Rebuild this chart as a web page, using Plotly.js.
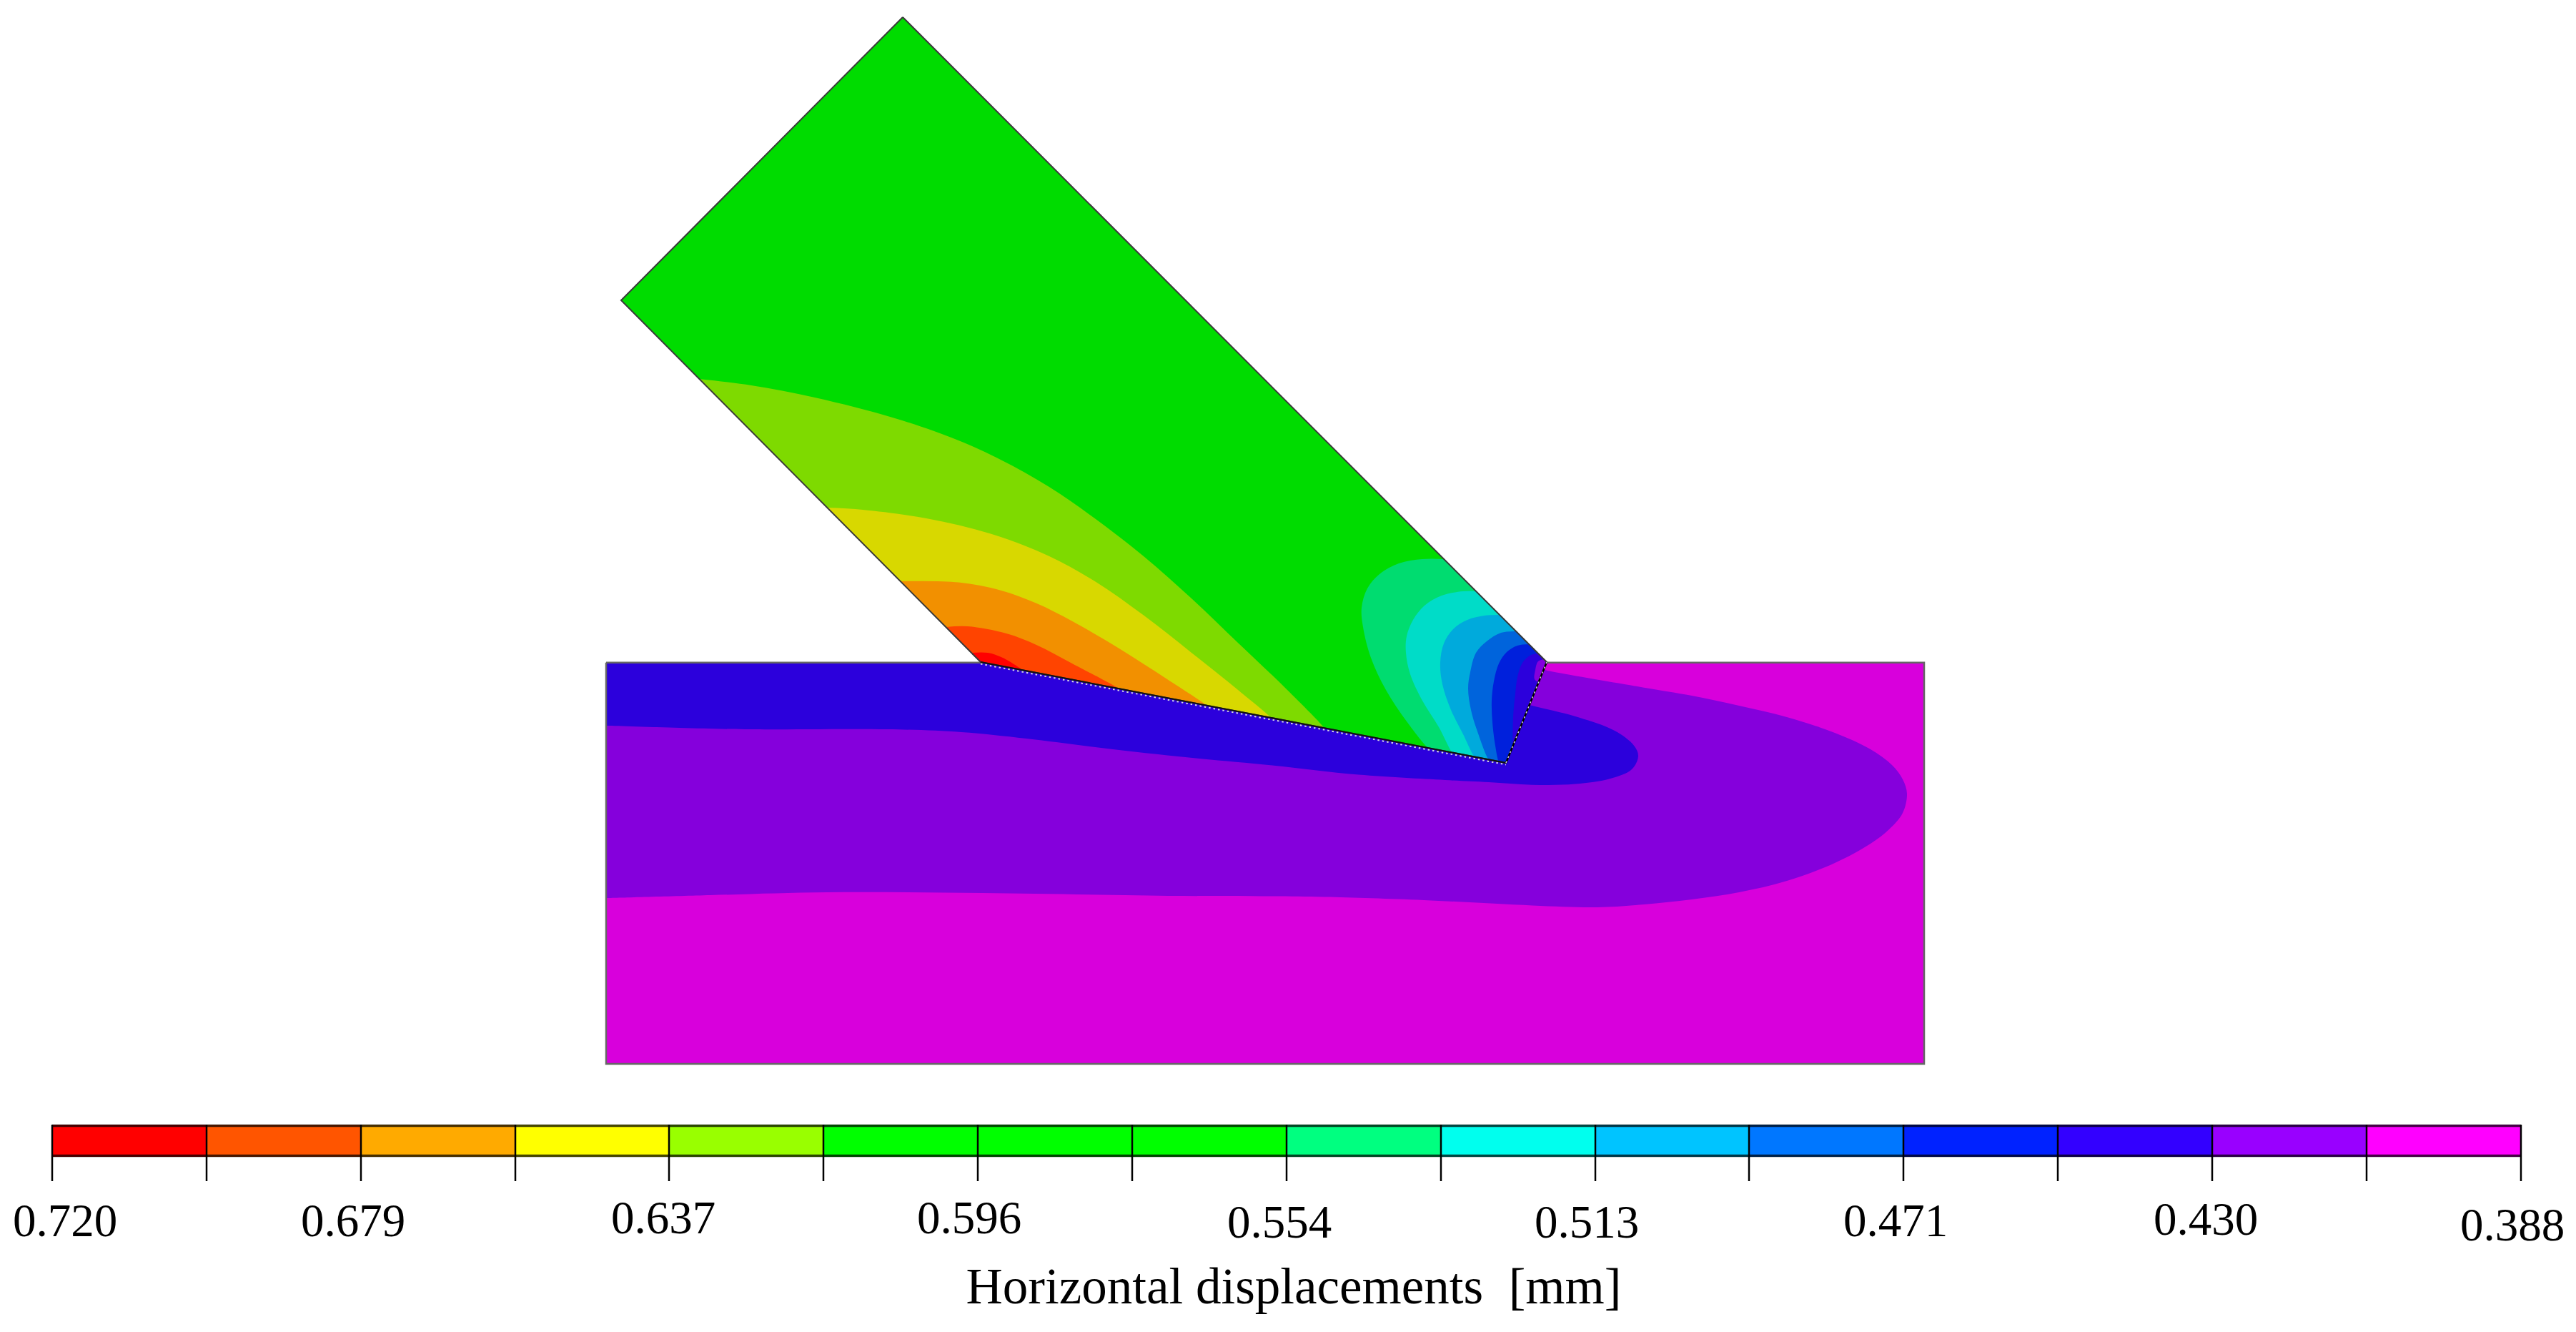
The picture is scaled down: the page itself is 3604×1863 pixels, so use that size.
<!DOCTYPE html>
<html>
<head>
<meta charset="utf-8">
<script src="https://cdn.plot.ly/plotly-3.0.1.min.js"></script>
<style>html,body{margin:0;padding:0;background:#fff}#chart{width:3604px;height:1863px}</style>
</head>
<body>
<div id="chart"></div>
<script>
// ---- colour scale ----
const scaleTicks = [73,289,505,721,936,1152,1368,1584,1800,2016,2232,2447,2663,2879,3095,3311,3527];
const scaleColors = ['#FF0000','#FF5500','#FFAA00','#FFFF00','#99FF00','#00FF00','#00FF00','#00FF00','#00FF80','#00FFEE','#00C4FF','#0077FF','#0022FF','#3300FF','#9900FF','#FF00FF'];
const labelText = ['0.720','0.679','0.637','0.596','0.554','0.513','0.471','0.430','0.388'];
const labelX = [91,494,928,1356,1790,2220,2652,3086,3515];
const labelY = [1713,1713,1709,1709,1715,1715,1713,1711,1719];
const axisTitle = 'Horizontal\u00A0displacements\u00A0\u00A0[mm]';

// ---- contour band colours (field plot) ----
const toolBase = '#00DC00';
const bandLime = '#7EDA00', bandYellow = '#D8D800', bandOrange = '#F29000', bandRedOrange = '#FF4400', bandRed = '#FF0000';
const bandTeal = '#00DC70', bandCyan = '#00DCC8', bandSky = '#00AADC', bandBlue = '#0064DC', bandDeep = '#0020DC', bandIndigo = '#2C00DC', bandViolet = '#8500DC', bandMagenta = '#D800DC';

// ---- outlines ----
const toolX = [1263,869,1372,2107,2164,1263];
const toolY = [24,420,926,1067,926,24];
const blockX = [848,2692,2692,848,848];
const blockY = [926.7,926.7,1488,1488,926.7];
const rakeX = [1372,2107]; const rakeY = [926,1067];
const flankX = [2107,2164]; const flankY = [1067,926];
const rakeDotY = [928.5,1069.5];

// ---- tool, rear bands ----
const limeX = [978,1051,1140,1252,1341,1400,1467,1533,1600,1667,1733,1800,1852,1850,1374,1372,1371,980];
const limeY = [530,539,556,585,616,643,680.5,726,778,837,900,964,1018,1017.6,926.4,926,925,532];
const yellowX = [1157,1207,1296,1386,1467,1533,1600,1667,1733,1778,1776,1374,1372,1371,1159];
const yellowY = [710,713,725,746.6,777.4,813.7,860.6,912.9,965.7,1004,1003.6,926.4,926,925,712];
const orangeX = [1260,1341,1400,1450,1500,1567,1633,1687,1685,1374,1372,1371,1262];
const orangeY = [813,814.6,825.8,843.8,868.8,907.7,950,986,985.6,926.4,926,925,815];
const redOrangeX = [1323,1354,1408,1450,1500,1565,1563,1374,1372,1371,1325];
const redOrangeY = [877,876,886,902,928,963,962.6,926.4,926,925,879];
const redX = [1359,1382,1403,1430,1428,1374,1372,1371,1360];
const redY = [913,913,920,937,936.6,926.4,926,925,915];

// ---- tool, tip bands ----
const tealX = [2021,1990,1957,1930,1913,1905,1907,1918,1939,1968,1998,2000,2105,2107,2107.8,2163,2164,2162.6,2022.5];
const tealY = [782,782,788,803,823,850,877,920,965,1009,1046,1046.5,1066.6,1067,1065,928,926,924.6,783.5];
const cyanX = [2066,2047,2017,1993,1977,1968,1967,1973,1990,2013,2032,2034,2105,2107,2107.8,2163,2164,2162.6,2067.5];
const cyanY = [827,827,833,847,867,890,913,943,980,1017,1052.6,1053,1066.6,1067,1065,928,926,924.6,828.5];
const skyX = [2099,2077,2053,2033,2020,2015,2018,2030,2047,2063,2065,2105,2107,2107.8,2163,2164,2162.6,2100.5];
const skyY = [860,861,867,880,900,927,957,993,1027,1058.5,1059,1066.6,1067,1065,928,926,924.6,861.5];
const blueX = [2122,2100,2080,2065,2057,2054,2058,2067,2083,2085,2105,2107,2107.8,2163,2164,2162.6,2123.5];
const blueY = [883,885,897,913,940,963,993,1023,1062.4,1062.8,1066.6,1067,1065,928,926,924.6,884.5];
const deepX = [2140,2123,2108,2097,2090,2087,2088,2092,2097,2099,2105,2107,2107.8,2163,2164,2162.6,2141.5];
const deepY = [901,903,912,928,953,980,1010,1043,1065.1,1065.5,1066.6,1067,1065,928,926,924.6,902.5];
const indigoTipX = [2153,2142,2130,2123,2120,2117,2117,2118,2163,2164,2162.6,2154.5];
const indigoTipY = [914,916,927,947,970,1003,1043,1040.5,928,926,924.6,915.5];
const violetTipX = [2161,2152,2148,2147,2153,2154,2163,2164,2162.6];
const violetTipY = [922,925,937,950,954,951.5,928,926,924.6];

// ---- workpiece bands ----
const magentaX = [848,2692,2692,848];
const magentaY = [926.7,926.7,1488,1488];
const violetX = [848,850,994,1157,1375,1648,1780,1853,1992,2144,2235,2300,2367,2433,2500,2567,2617,2643,2662,2668,2662,2647,2617,2567,2500,2433,2367,2300,2168,2150,2000,1400,1385,1380,1375,850,848,848,848];
const violetY = [1256,1256,1252,1248,1249,1253,1253.5,1254.6,1259,1266.5,1269,1265,1258,1248,1232,1207,1180,1160,1137,1110,1090,1070,1048,1025,1003,987,973,961.7,938.6,934,930,928,928,927,927,927,927,929,1254];
const indigoX = [848,850,951,1042,1242,1345,1436,1557,1678,1780,1901,2022,2083,2143.6,2204,2253,2283,2292,2286,2259,2204,2143.6,2100,1500,1385,1380,1375,850,848,848,848];
const indigoY = [1015,1015,1018,1020,1020,1024,1033,1048,1061,1070.5,1083.6,1091,1094,1097.7,1096.6,1089,1076,1057.5,1042.7,1022,1002,987,975,935,928,927,927,927,927,929,1013];

// ---- traces ----
function band(x, y, color, shape) {
  return {type:'scatter', mode:'lines', x:x, y:y, fill:'toself', fillcolor:color,
          line:{width:0, shape:shape||'spline', smoothing:1, simplify:false}, hoverinfo:'skip'};
}
function stroke(x, y, color, width, dash) {
  return {type:'scatter', mode:'lines', x:x, y:y,
          line:{color:color, width:width, dash:dash||'solid', simplify:false}, hoverinfo:'skip'};
}
const serif = '"Liberation Serif", serif';
const barCenters = scaleColors.map((c,i)=>(scaleTicks[i]+scaleTicks[i+1])/2);
const barWidths = scaleColors.map((c,i)=>scaleTicks[i+1]-scaleTicks[i]);
const tickX = [], tickY = [];
scaleTicks.forEach(t=>{tickX.push(t,t,null); tickY.push(1573,1652,null);});

const traces = [
  band(magentaX, magentaY, bandMagenta, 'linear'),
  band(violetX, violetY, bandViolet),
  band(indigoX, indigoY, bandIndigo),
  stroke(blockX, blockY, '#666666', 2.5),
  band(toolX, toolY, toolBase, 'linear'),
  band(limeX, limeY, bandLime),
  band(yellowX, yellowY, bandYellow),
  band(orangeX, orangeY, bandOrange),
  band(redOrangeX, redOrangeY, bandRedOrange),
  band(redX, redY, bandRed),
  band(tealX, tealY, bandTeal),
  band(cyanX, cyanY, bandCyan),
  band(skyX, skyY, bandSky),
  band(blueX, blueY, bandBlue),
  band(deepX, deepY, bandDeep),
  band(indigoTipX, indigoTipY, bandIndigo),
  band(violetTipX, violetTipY, bandViolet),
  stroke(toolX, toolY, '#3a3a3a', 2),
  stroke(rakeX, rakeDotY, '#d8d8e0', 2, '2.5px,4px'),
  stroke(rakeX, rakeY, '#111111', 2),
  stroke(flankX, flankY, '#000000', 2.5),
  stroke(flankX, flankY, '#d8d8e0', 1.5, '2.5px,5px'),
  {type:'bar', x:barCenters, y:barWidths.map(()=>45), base:1573, width:barWidths,
   marker:{color:scaleColors, line:{width:0}}, hoverinfo:'skip'},
  stroke([73,3527],[1574.5,1574.5],'rgba(0,0,0,0.72)',3.5),
  stroke([73,3527],[1616.5,1616.5],'rgba(0,0,0,0.72)',3.5),
  stroke(tickX, tickY, '#000000', 2.5),
  {type:'scatter', mode:'text', x:labelX, y:labelY, text:labelText, textposition:'middle center',
   textfont:{family:serif, size:65, color:'#000'}, hoverinfo:'skip'},
  {type:'scatter', mode:'text', x:[1810], y:[1805], text:[axisTitle], textposition:'middle center',
   textfont:{family:serif, size:71, color:'#000'}, hoverinfo:'skip'}
];

const layout = {
  width:3604, height:1863, margin:{l:0,r:0,t:0,b:0,pad:0},
  paper_bgcolor:'#ffffff', plot_bgcolor:'#ffffff', showlegend:false,
  xaxis:{range:[0,3604], visible:false, fixedrange:true},
  yaxis:{range:[1863,0], visible:false, fixedrange:true},
  barmode:'overlay', hovermode:false
};
Plotly.newPlot('chart', traces, layout, {displayModeBar:false, responsive:false, staticPlot:true});
</script>
</body>
</html>
